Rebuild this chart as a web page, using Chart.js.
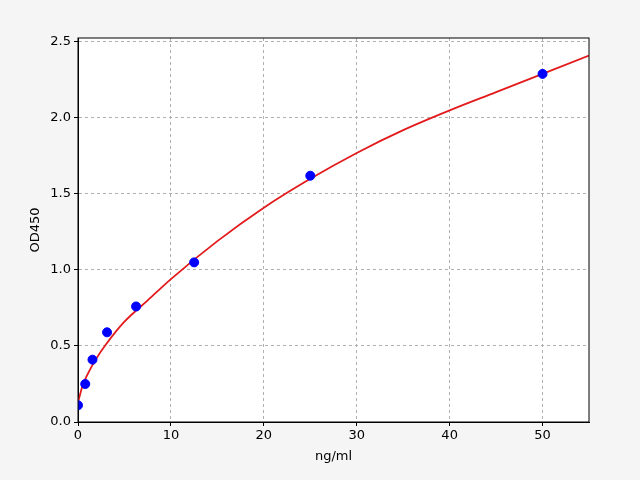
<!DOCTYPE html>
<html><head><script src="https://cdn.jsdelivr.net/npm/chart.js@4"></script>
<style>html,body{margin:0;padding:0;background:#f5f5f5}</style></head>
<body><div style="width:640px;height:480px"><canvas id="c"></canvas></div>
<script>
const pointX=[0,0.78,1.56,3.125,6.25,12.5,25,50];
const pointY=[0.11,0.25,0.41,0.59,0.76,1.05,1.62,2.29];
const curveX=[0,0.5,1,2,3,5,7.5,10,15,20,25,30,35,40,45,50,55];
const curveY=[0.13,0.24,0.31,0.42,0.51,0.66,0.8,0.94,1.19,1.41,1.6,1.77,1.92,2.05,2.17,2.29,2.41];
const frame={id:'frame',beforeDraw(c){const a=c.chartArea,x=c.ctx;x.save();x.fillStyle='#fff';x.fillRect(a.left,a.top,a.right-a.left,a.bottom-a.top);x.restore();},
afterDraw(c){const a=c.chartArea,x=c.ctx;x.save();x.strokeStyle='#000';x.lineWidth=1;x.strokeRect(a.left,a.top,a.right-a.left,a.bottom-a.top);x.restore();}};
const font={family:'DejaVu Sans',size:13};
new Chart(document.getElementById('c'),{type:'scatter',
data:{datasets:[
{data:pointX.map((v,i)=>({x:v,y:pointY[i]})),backgroundColor:'#0000ff',borderColor:'#0000ff',pointRadius:4.5,order:0},
{type:'line',data:curveX.map((v,i)=>({x:v,y:curveY[i]})),borderColor:'#e31a1c',borderWidth:1.8,pointRadius:0,tension:0.4,cubicInterpolationMode:'monotone',fill:false,order:1}]},
options:{responsive:true,maintainAspectRatio:false,animation:false,
layout:{padding:{left:24,right:51,top:38,bottom:12}},
plugins:{legend:{display:false},tooltip:{enabled:false}},
scales:{
x:{type:'linear',min:0,max:55,afterFit(s){s.height=46;},
afterBuildTicks(s){s.ticks=[0,10,20,30,40,50].map(v=>({value:v}));},
grid:{color:'#b0b0b0',tickColor:'#000',tickLength:4,drawTicks:true},border:{display:true,dash:[3,3],color:'#000'},
ticks:{color:'#000',font,padding:2,maxRotation:0},
title:{display:true,text:'ng/ml',color:'#000',font,padding:{top:0}}},
y:{min:0,max:2.526,afterFit(s){s.width=54;},
afterBuildTicks(s){s.ticks=[0,0.5,1,1.5,2,2.5].map(v=>({value:v}));},
grid:{color:'#b0b0b0',tickColor:'#000',tickLength:4},border:{display:true,dash:[3,3],color:'#000'},
ticks:{color:'#000',font,padding:3,callback:v=>v.toFixed(1)},
title:{display:true,text:'OD450',color:'#000',font,padding:{bottom:0}}}}},
plugins:[frame]});
</script></body></html>
